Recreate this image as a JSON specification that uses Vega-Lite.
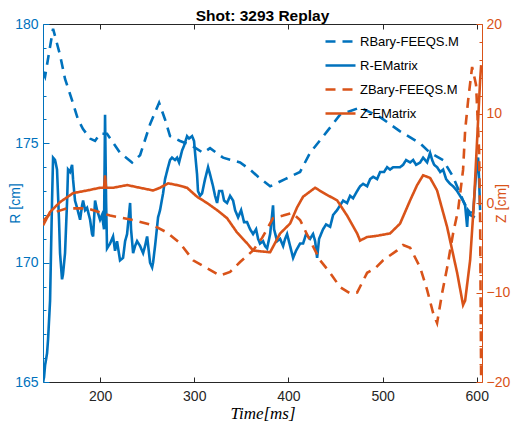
{
  "$schema": "https://vega.github.io/schema/vega-lite/v6.json",
  "width": 439,
  "height": 358,
  "autosize": {"type": "none"},
  "padding": {"left": 43, "top": 24, "right": 30, "bottom": 45},
  "background": "white",
  "config": {"view": {"stroke": null}, "font": "Liberation Sans"},
  "title": {"text": "Shot: 3293 Replay", "font": "Liberation Sans", "fontSize": 15.5, "fontWeight": "bold", "color": "#000000", "offset": -7, "anchor": "middle"},
  "data": {"values": [
    {"s":"RBary-FEEQS.M","t":139.5,"v":178.0},{"s":"RBary-FEEQS.M","t":141.6,"v":177.8},{"s":"RBary-FEEQS.M","t":150.1,"v":179.8},{"s":"RBary-FEEQS.M","t":157.5,"v":178.7},{"s":"RBary-FEEQS.M","t":162.8,"v":177.7},{"s":"RBary-FEEQS.M","t":170.3,"v":176.8},{"s":"RBary-FEEQS.M","t":176.6,"v":176.0},{"s":"RBary-FEEQS.M","t":181.9,"v":175.6},{"s":"RBary-FEEQS.M","t":189.4,"v":175.2},{"s":"RBary-FEEQS.M","t":194.7,"v":175.1},{"s":"RBary-FEEQS.M","t":200.0,"v":175.4},{"s":"RBary-FEEQS.M","t":207.4,"v":175.4},{"s":"RBary-FEEQS.M","t":221.2,"v":174.6},{"s":"RBary-FEEQS.M","t":234.0,"v":174.2},{"s":"RBary-FEEQS.M","t":242.5,"v":174.5},{"s":"RBary-FEEQS.M","t":253.1,"v":175.8},{"s":"RBary-FEEQS.M","t":262.7,"v":176.7},{"s":"RBary-FEEQS.M","t":269.0,"v":176.0},{"s":"RBary-FEEQS.M","t":274.3,"v":175.3},{"s":"RBary-FEEQS.M","t":285.0,"v":175.1},{"s":"RBary-FEEQS.M","t":297.7,"v":174.9},{"s":"RBary-FEEQS.M","t":309.4,"v":174.6},{"s":"RBary-FEEQS.M","t":316.8,"v":174.8},{"s":"RBary-FEEQS.M","t":330.6,"v":174.4},{"s":"RBary-FEEQS.M","t":348.7,"v":174.2},{"s":"RBary-FEEQS.M","t":359.3,"v":173.9},{"s":"RBary-FEEQS.M","t":367.8,"v":173.6},{"s":"RBary-FEEQS.M","t":380.6,"v":173.2},{"s":"RBary-FEEQS.M","t":396.5,"v":173.5},{"s":"RBary-FEEQS.M","t":412.4,"v":173.8},{"s":"RBary-FEEQS.M","t":423.0,"v":174.6},{"s":"RBary-FEEQS.M","t":441.1,"v":175.5},{"s":"RBary-FEEQS.M","t":454.9,"v":176.2},{"s":"RBary-FEEQS.M","t":476.1,"v":176.5},{"s":"RBary-FEEQS.M","t":497.4,"v":176.1},{"s":"RBary-FEEQS.M","t":518.6,"v":175.5},{"s":"RBary-FEEQS.M","t":539.9,"v":175.0},{"s":"RBary-FEEQS.M","t":550.5,"v":174.6},{"s":"RBary-FEEQS.M","t":564.3,"v":174.3},{"s":"RBary-FEEQS.M","t":574.9,"v":173.6},{"s":"RBary-FEEQS.M","t":585.5,"v":172.6},{"s":"RBary-FEEQS.M","t":593.0,"v":172.0},{"s":"RBary-FEEQS.M","t":598.0,"v":171.9},
    {"s":"R-EMatrix","t":139.5,"v":165.0},{"s":"R-EMatrix","t":140.5,"v":165.2},{"s":"R-EMatrix","t":141.6,"v":165.7},{"s":"R-EMatrix","t":143.7,"v":166.2},{"s":"R-EMatrix","t":144.8,"v":166.8},{"s":"R-EMatrix","t":146.9,"v":168.4},{"s":"R-EMatrix","t":149.0,"v":172.6},{"s":"R-EMatrix","t":150.1,"v":174.4},{"s":"R-EMatrix","t":152.2,"v":174.3},{"s":"R-EMatrix","t":154.3,"v":173.9},{"s":"R-EMatrix","t":156.4,"v":171.8},{"s":"R-EMatrix","t":157.5,"v":170.4},{"s":"R-EMatrix","t":159.6,"v":169.3},{"s":"R-EMatrix","t":160.6,"v":169.5},{"s":"R-EMatrix","t":162.8,"v":170.4},{"s":"R-EMatrix","t":165.0,"v":172.6},{"s":"R-EMatrix","t":166.0,"v":173.9},{"s":"R-EMatrix","t":168.1,"v":173.8},{"s":"R-EMatrix","t":170.3,"v":174.1},{"s":"R-EMatrix","t":171.3,"v":173.5},{"s":"R-EMatrix","t":173.4,"v":172.6},{"s":"R-EMatrix","t":175.6,"v":172.3},{"s":"R-EMatrix","t":178.8,"v":171.8},{"s":"R-EMatrix","t":180.9,"v":172.4},{"s":"R-EMatrix","t":182.0,"v":172.6},{"s":"R-EMatrix","t":184.1,"v":172.2},{"s":"R-EMatrix","t":186.2,"v":172.3},{"s":"R-EMatrix","t":189.4,"v":171.8},{"s":"R-EMatrix","t":191.5,"v":171.2},{"s":"R-EMatrix","t":192.6,"v":171.1},{"s":"R-EMatrix","t":194.7,"v":172.6},{"s":"R-EMatrix","t":196.8,"v":172.2},{"s":"R-EMatrix","t":200.0,"v":171.8},{"s":"R-EMatrix","t":202.1,"v":172.0},{"s":"R-EMatrix","t":204.2,"v":171.4},{"s":"R-EMatrix","t":205.3,"v":176.2},{"s":"R-EMatrix","t":206.4,"v":172.6},{"s":"R-EMatrix","t":207.4,"v":170.6},{"s":"R-EMatrix","t":210.6,"v":170.8},{"s":"R-EMatrix","t":213.8,"v":171.1},{"s":"R-EMatrix","t":215.9,"v":170.5},{"s":"R-EMatrix","t":218.0,"v":170.9},{"s":"R-EMatrix","t":221.2,"v":170.1},{"s":"R-EMatrix","t":224.4,"v":170.2},{"s":"R-EMatrix","t":226.6,"v":170.9},{"s":"R-EMatrix","t":228.7,"v":171.2},{"s":"R-EMatrix","t":231.9,"v":172.5},{"s":"R-EMatrix","t":232.9,"v":171.4},{"s":"R-EMatrix","t":235.1,"v":170.4},{"s":"R-EMatrix","t":237.2,"v":170.7},{"s":"R-EMatrix","t":239.3,"v":170.9},{"s":"R-EMatrix","t":242.5,"v":170.7},{"s":"R-EMatrix","t":245.7,"v":170.4},{"s":"R-EMatrix","t":247.8,"v":170.7},{"s":"R-EMatrix","t":250.0,"v":171.1},{"s":"R-EMatrix","t":253.1,"v":170.0},{"s":"R-EMatrix","t":255.3,"v":169.8},{"s":"R-EMatrix","t":256.3,"v":170.0},{"s":"R-EMatrix","t":258.4,"v":170.7},{"s":"R-EMatrix","t":261.6,"v":171.9},{"s":"R-EMatrix","t":263.7,"v":172.2},{"s":"R-EMatrix","t":266.9,"v":172.9},{"s":"R-EMatrix","t":269.0,"v":173.5},{"s":"R-EMatrix","t":272.2,"v":174.0},{"s":"R-EMatrix","t":274.3,"v":174.3},{"s":"R-EMatrix","t":276.4,"v":174.4},{"s":"R-EMatrix","t":279.6,"v":174.3},{"s":"R-EMatrix","t":281.8,"v":174.4},{"s":"R-EMatrix","t":283.9,"v":174.2},{"s":"R-EMatrix","t":287.1,"v":174.7},{"s":"R-EMatrix","t":289.2,"v":174.9},{"s":"R-EMatrix","t":292.4,"v":175.3},{"s":"R-EMatrix","t":294.5,"v":175.2},{"s":"R-EMatrix","t":297.7,"v":175.3},{"s":"R-EMatrix","t":299.8,"v":175.1},{"s":"R-EMatrix","t":300.9,"v":174.6},{"s":"R-EMatrix","t":303.0,"v":173.7},{"s":"R-EMatrix","t":304.0,"v":173.0},{"s":"R-EMatrix","t":306.2,"v":172.8},{"s":"R-EMatrix","t":308.3,"v":172.9},{"s":"R-EMatrix","t":311.5,"v":173.5},{"s":"R-EMatrix","t":314.7,"v":174.0},{"s":"R-EMatrix","t":316.8,"v":173.7},{"s":"R-EMatrix","t":320.0,"v":173.2},{"s":"R-EMatrix","t":322.1,"v":172.8},{"s":"R-EMatrix","t":324.3,"v":172.5},{"s":"R-EMatrix","t":326.4,"v":173.0},{"s":"R-EMatrix","t":329.6,"v":173.0},{"s":"R-EMatrix","t":331.7,"v":172.6},{"s":"R-EMatrix","t":334.9,"v":172.5},{"s":"R-EMatrix","t":338.1,"v":172.8},{"s":"R-EMatrix","t":341.3,"v":172.6},{"s":"R-EMatrix","t":343.4,"v":172.2},{"s":"R-EMatrix","t":346.6,"v":171.9},{"s":"R-EMatrix","t":349.8,"v":172.2},{"s":"R-EMatrix","t":352.9,"v":171.7},{"s":"R-EMatrix","t":356.1,"v":171.7},{"s":"R-EMatrix","t":359.3,"v":171.4},{"s":"R-EMatrix","t":362.5,"v":171.2},{"s":"R-EMatrix","t":365.7,"v":171.4},{"s":"R-EMatrix","t":367.8,"v":171.0},{"s":"R-EMatrix","t":369.9,"v":170.8},{"s":"R-EMatrix","t":373.1,"v":170.9},{"s":"R-EMatrix","t":375.2,"v":170.7},{"s":"R-EMatrix","t":377.4,"v":170.6},{"s":"R-EMatrix","t":380.6,"v":171.2},{"s":"R-EMatrix","t":382.7,"v":172.0},{"s":"R-EMatrix","t":383.7,"v":172.4},{"s":"R-EMatrix","t":384.8,"v":171.4},{"s":"R-EMatrix","t":388.0,"v":170.9},{"s":"R-EMatrix","t":391.2,"v":171.0},{"s":"R-EMatrix","t":394.4,"v":170.7},{"s":"R-EMatrix","t":396.5,"v":171.0},{"s":"R-EMatrix","t":398.6,"v":171.2},{"s":"R-EMatrix","t":401.8,"v":170.7},{"s":"R-EMatrix","t":405.0,"v":170.2},{"s":"R-EMatrix","t":408.1,"v":170.5},{"s":"R-EMatrix","t":412.4,"v":170.8},{"s":"R-EMatrix","t":415.6,"v":170.8},{"s":"R-EMatrix","t":418.8,"v":171.2},{"s":"R-EMatrix","t":423.0,"v":171.0},{"s":"R-EMatrix","t":426.2,"v":171.2},{"s":"R-EMatrix","t":428.4,"v":170.9},{"s":"R-EMatrix","t":430.5,"v":170.2},{"s":"R-EMatrix","t":432.6,"v":171.0},{"s":"R-EMatrix","t":434.7,"v":171.2},{"s":"R-EMatrix","t":436.8,"v":171.4},{"s":"R-EMatrix","t":440.0,"v":171.6},{"s":"R-EMatrix","t":444.3,"v":171.5},{"s":"R-EMatrix","t":447.5,"v":172.0},{"s":"R-EMatrix","t":451.7,"v":172.2},{"s":"R-EMatrix","t":454.9,"v":172.4},{"s":"R-EMatrix","t":458.1,"v":172.6},{"s":"R-EMatrix","t":462.3,"v":172.5},{"s":"R-EMatrix","t":465.5,"v":172.8},{"s":"R-EMatrix","t":468.7,"v":172.7},{"s":"R-EMatrix","t":473.0,"v":173.0},{"s":"R-EMatrix","t":476.1,"v":173.2},{"s":"R-EMatrix","t":479.3,"v":173.3},{"s":"R-EMatrix","t":483.6,"v":173.2},{"s":"R-EMatrix","t":486.8,"v":173.5},{"s":"R-EMatrix","t":490.0,"v":173.6},{"s":"R-EMatrix","t":494.2,"v":173.5},{"s":"R-EMatrix","t":497.4,"v":173.8},{"s":"R-EMatrix","t":501.6,"v":173.8},{"s":"R-EMatrix","t":504.8,"v":174.0},{"s":"R-EMatrix","t":508.0,"v":173.9},{"s":"R-EMatrix","t":511.2,"v":174.0},{"s":"R-EMatrix","t":514.3,"v":174.0},{"s":"R-EMatrix","t":518.6,"v":174.0},{"s":"R-EMatrix","t":521.8,"v":174.1},{"s":"R-EMatrix","t":525.0,"v":174.3},{"s":"R-EMatrix","t":529.3,"v":174.2},{"s":"R-EMatrix","t":532.5,"v":174.3},{"s":"R-EMatrix","t":535.6,"v":174.1},{"s":"R-EMatrix","t":539.9,"v":174.2},{"s":"R-EMatrix","t":543.1,"v":174.4},{"s":"R-EMatrix","t":547.3,"v":174.2},{"s":"R-EMatrix","t":550.5,"v":174.6},{"s":"R-EMatrix","t":552.7,"v":174.3},{"s":"R-EMatrix","t":554.8,"v":174.1},{"s":"R-EMatrix","t":557.9,"v":174.0},{"s":"R-EMatrix","t":561.2,"v":173.8},{"s":"R-EMatrix","t":564.3,"v":173.9},{"s":"R-EMatrix","t":567.5,"v":173.5},{"s":"R-EMatrix","t":571.8,"v":173.3},{"s":"R-EMatrix","t":574.9,"v":173.2},{"s":"R-EMatrix","t":579.2,"v":173.0},{"s":"R-EMatrix","t":582.3,"v":172.8},{"s":"R-EMatrix","t":585.5,"v":172.6},{"s":"R-EMatrix","t":587.7,"v":172.4},{"s":"R-EMatrix","t":589.8,"v":171.5},{"s":"R-EMatrix","t":590.9,"v":172.2},{"s":"R-EMatrix","t":593.0,"v":172.1},{"s":"R-EMatrix","t":596.2,"v":172.1},{"s":"R-EMatrix","t":598.3,"v":173.2},{"s":"R-EMatrix","t":600.4,"v":174.3},{"s":"R-EMatrix","t":601.5,"v":174.4},{"s":"R-EMatrix","t":602.5,"v":173.5},{"s":"R-EMatrix","t":603.6,"v":172.2},
    {"s":"ZBary-FEEQS.M","t":139.5,"v":-2.0},{"s":"ZBary-FEEQS.M","t":146.9,"v":-1.2},{"s":"ZBary-FEEQS.M","t":164.9,"v":-0.6},{"s":"ZBary-FEEQS.M","t":186.2,"v":-0.6},{"s":"ZBary-FEEQS.M","t":210.6,"v":-1.4},{"s":"ZBary-FEEQS.M","t":235.0,"v":-1.9},{"s":"ZBary-FEEQS.M","t":256.3,"v":-2.5},{"s":"ZBary-FEEQS.M","t":271.2,"v":-3.3},{"s":"ZBary-FEEQS.M","t":285.0,"v":-4.5},{"s":"ZBary-FEEQS.M","t":298.8,"v":-6.4},{"s":"ZBary-FEEQS.M","t":313.6,"v":-7.3},{"s":"ZBary-FEEQS.M","t":327.5,"v":-8.1},{"s":"ZBary-FEEQS.M","t":338.1,"v":-7.7},{"s":"ZBary-FEEQS.M","t":348.7,"v":-6.6},{"s":"ZBary-FEEQS.M","t":362.5,"v":-5.3},{"s":"ZBary-FEEQS.M","t":372.1,"v":-3.9},{"s":"ZBary-FEEQS.M","t":383.7,"v":-1.7},{"s":"ZBary-FEEQS.M","t":394.4,"v":-1.4},{"s":"ZBary-FEEQS.M","t":403.9,"v":-1.1},{"s":"ZBary-FEEQS.M","t":412.4,"v":-1.9},{"s":"ZBary-FEEQS.M","t":423.0,"v":-4.2},{"s":"ZBary-FEEQS.M","t":433.7,"v":-6.4},{"s":"ZBary-FEEQS.M","t":444.3,"v":-7.8},{"s":"ZBary-FEEQS.M","t":454.9,"v":-9.4},{"s":"ZBary-FEEQS.M","t":465.5,"v":-10.1},{"s":"ZBary-FEEQS.M","t":473.0,"v":-10.0},{"s":"ZBary-FEEQS.M","t":483.6,"v":-7.8},{"s":"ZBary-FEEQS.M","t":492.1,"v":-7.3},{"s":"ZBary-FEEQS.M","t":500.6,"v":-6.4},{"s":"ZBary-FEEQS.M","t":515.5,"v":-5.3},{"s":"ZBary-FEEQS.M","t":521.8,"v":-4.7},{"s":"ZBary-FEEQS.M","t":529.3,"v":-5.0},{"s":"ZBary-FEEQS.M","t":539.9,"v":-7.2},{"s":"ZBary-FEEQS.M","t":547.3,"v":-9.7},{"s":"ZBary-FEEQS.M","t":553.7,"v":-12.3},{"s":"ZBary-FEEQS.M","t":557.9,"v":-13.4},{"s":"ZBary-FEEQS.M","t":563.2,"v":-10.1},{"s":"ZBary-FEEQS.M","t":568.6,"v":-7.2},{"s":"ZBary-FEEQS.M","t":574.9,"v":-3.4},{"s":"ZBary-FEEQS.M","t":580.2,"v":-0.8},{"s":"ZBary-FEEQS.M","t":585.5,"v":3.7},{"s":"ZBary-FEEQS.M","t":587.7,"v":8.1},{"s":"ZBary-FEEQS.M","t":590.9,"v":11.5},{"s":"ZBary-FEEQS.M","t":595.1,"v":15.2},{"s":"ZBary-FEEQS.M","t":599.3,"v":13.2},{"s":"ZBary-FEEQS.M","t":602.5,"v":5.9},{"s":"ZBary-FEEQS.M","t":603.6,"v":-1.9},{"s":"ZBary-FEEQS.M","t":604.7,"v":-20.0},
    {"s":"Z-EMatrix","t":139.5,"v":-2.5},{"s":"Z-EMatrix","t":146.9,"v":-1.0},{"s":"Z-EMatrix","t":157.5,"v":0.1},{"s":"Z-EMatrix","t":171.3,"v":1.1},{"s":"Z-EMatrix","t":186.2,"v":1.4},{"s":"Z-EMatrix","t":200.0,"v":1.7},{"s":"Z-EMatrix","t":204.2,"v":1.7},{"s":"Z-EMatrix","t":205.3,"v":3.1},{"s":"Z-EMatrix","t":206.4,"v":1.7},{"s":"Z-EMatrix","t":213.8,"v":1.7},{"s":"Z-EMatrix","t":228.7,"v":2.0},{"s":"Z-EMatrix","t":242.5,"v":1.7},{"s":"Z-EMatrix","t":256.3,"v":1.4},{"s":"Z-EMatrix","t":263.7,"v":1.7},{"s":"Z-EMatrix","t":272.2,"v":2.2},{"s":"Z-EMatrix","t":281.8,"v":2.0},{"s":"Z-EMatrix","t":292.4,"v":1.7},{"s":"Z-EMatrix","t":303.0,"v":0.7},{"s":"Z-EMatrix","t":313.6,"v":0.0},{"s":"Z-EMatrix","t":324.3,"v":-0.8},{"s":"Z-EMatrix","t":334.9,"v":-1.7},{"s":"Z-EMatrix","t":345.5,"v":-3.3},{"s":"Z-EMatrix","t":356.1,"v":-4.5},{"s":"Z-EMatrix","t":362.5,"v":-5.3},{"s":"Z-EMatrix","t":369.9,"v":-5.4},{"s":"Z-EMatrix","t":380.6,"v":-5.5},{"s":"Z-EMatrix","t":391.2,"v":-3.4},{"s":"Z-EMatrix","t":401.8,"v":-2.3},{"s":"Z-EMatrix","t":409.2,"v":-0.5},{"s":"Z-EMatrix","t":415.6,"v":0.7},{"s":"Z-EMatrix","t":428.3,"v":1.7},{"s":"Z-EMatrix","t":441.1,"v":0.9},{"s":"Z-EMatrix","t":451.7,"v":0.3},{"s":"Z-EMatrix","t":462.3,"v":-1.4},{"s":"Z-EMatrix","t":473.0,"v":-3.4},{"s":"Z-EMatrix","t":476.1,"v":-4.2},{"s":"Z-EMatrix","t":483.6,"v":-3.8},{"s":"Z-EMatrix","t":492.1,"v":-3.7},{"s":"Z-EMatrix","t":508.0,"v":-3.4},{"s":"Z-EMatrix","t":518.6,"v":-2.3},{"s":"Z-EMatrix","t":529.3,"v":0.3},{"s":"Z-EMatrix","t":536.7,"v":2.0},{"s":"Z-EMatrix","t":543.1,"v":3.1},{"s":"Z-EMatrix","t":550.5,"v":2.8},{"s":"Z-EMatrix","t":557.9,"v":1.4},{"s":"Z-EMatrix","t":568.6,"v":-2.7},{"s":"Z-EMatrix","t":579.2,"v":-7.8},{"s":"Z-EMatrix","t":585.5,"v":-11.4},{"s":"Z-EMatrix","t":587.7,"v":-10.9},{"s":"Z-EMatrix","t":593.0,"v":-6.4},{"s":"Z-EMatrix","t":597.2,"v":0.3},{"s":"Z-EMatrix","t":600.4,"v":7.0},{"s":"Z-EMatrix","t":603.6,"v":13.7},{"s":"Z-EMatrix","t":604.7,"v":15.4}
  ]},
  "encoding": {
    "x": {"field": "t", "type": "quantitative", "scale": {"domain": [139.4, 605.6], "nice": false, "zero": false}},
    "color": {"field": "s", "type": "nominal", "title": null,
      "scale": {"domain": ["RBary-FEEQS.M", "R-EMatrix", "ZBary-FEEQS.M", "Z-EMatrix"], "range": ["#0072BD", "#0072BD", "#D95319", "#D95319"]},
      "legend": {"orient": "none", "legendX": 281, "legendY": 1, "symbolType": "stroke", "symbolSize": 900, "symbolStrokeWidth": 2.5, "labelFont": "Liberation Sans", "labelFontSize": 13, "labelColor": "#000000", "labelOffset": 3, "rowPadding": -10, "padding": 0}},
    "strokeDash": {"field": "s", "type": "nominal", "title": null,
      "scale": {"domain": ["RBary-FEEQS.M", "R-EMatrix", "ZBary-FEEQS.M", "Z-EMatrix"], "range": [[10, 7], [1, 0], [10, 7], [1, 0]]}}
  },
  "layer": [
    {
      "transform": [{"filter": "datum.s[0] === 'R'"}],
      "mark": {"type": "line", "strokeWidth": 2.6, "clip": true},
      "encoding": {
        "x": {"field": "t", "type": "quantitative", "scale": {"domain": [139.4, 605.6], "nice": false, "zero": false},
          "axis": {"orient": "bottom", "values": [200, 300, 400, 500, 600], "grid": false, "tickSize": -5, "labelPadding": 12, "domainColor": "#262626", "tickColor": "#262626", "labelColor": "#262626", "labelFont": "Liberation Sans", "labelFontSize": 14, "title": "Time[ms]", "titleFont": "Liberation Serif", "titleFontStyle": "italic", "titleFontWeight": "normal", "titleFontSize": 17, "titleColor": "#000000", "titlePadding": 2}},
        "y": {"field": "v", "type": "quantitative", "scale": {"domain": [165, 180], "nice": false, "zero": false},
          "axis": {"orient": "left", "values": [165,166,167,168,169,170,171,172,173,174,175,176,177,178,179,180], "labelExpr": "datum.value % 5 === 0 ? datum.label : ''", "labelOverlap": false, "grid": false,
            "tickSize": {"condition": {"test": "datum.value % 5 === 0", "value": -6}, "value": -3},
            "labelPadding": 11, "domainColor": "#0072BD", "tickColor": "#0072BD", "labelColor": "#0072BD", "labelFont": "Liberation Sans", "labelFontSize": 14, "title": "R [cm]", "titleColor": "#0072BD", "titleFont": "Liberation Sans", "titleFontSize": 14, "titleFontWeight": "normal", "titlePadding": -8}},
        "detail": {"field": "s"}
      }
    },
    {
      "transform": [{"filter": "datum.s[0] === 'Z'"}],
      "mark": {"type": "line", "strokeWidth": 2.6, "clip": true},
      "encoding": {
        "x": {"field": "t", "type": "quantitative", "scale": {"domain": [139.4, 605.6], "nice": false, "zero": false},
          "axis": {"orient": "top", "values": [200, 300, 400, 500, 600], "grid": false, "labels": false, "title": null, "tickSize": -5, "domainColor": "#262626", "tickColor": "#262626"}},
        "y": {"field": "v", "type": "quantitative", "scale": {"domain": [-20, 20], "nice": false, "zero": false},
          "axis": {"orient": "right", "values": [-20,-18,-16,-14,-12,-10,-8,-6,-4,-2,0,2,4,6,8,10,12,14,16,18,20], "labelExpr": "datum.value % 10 === 0 ? datum.label : ''", "labelOverlap": false, "grid": false,
            "tickSize": {"condition": {"test": "datum.value % 10 === 0", "value": -6}, "value": -3},
            "labelPadding": 10, "domainColor": "#D95319", "tickColor": "#D95319", "labelColor": "#D95319", "labelFont": "Liberation Sans", "labelFontSize": 14, "title": "Z [cm]", "titleAngle": 270, "titleColor": "#D95319", "titleFont": "Liberation Sans", "titleFontSize": 14, "titleFontWeight": "normal", "titlePadding": -1}},
        "detail": {"field": "s"}
      }
    }
  ],
  "resolve": {"scale": {"y": "independent"}, "axis": {"x": "independent", "y": "independent"}}
}
